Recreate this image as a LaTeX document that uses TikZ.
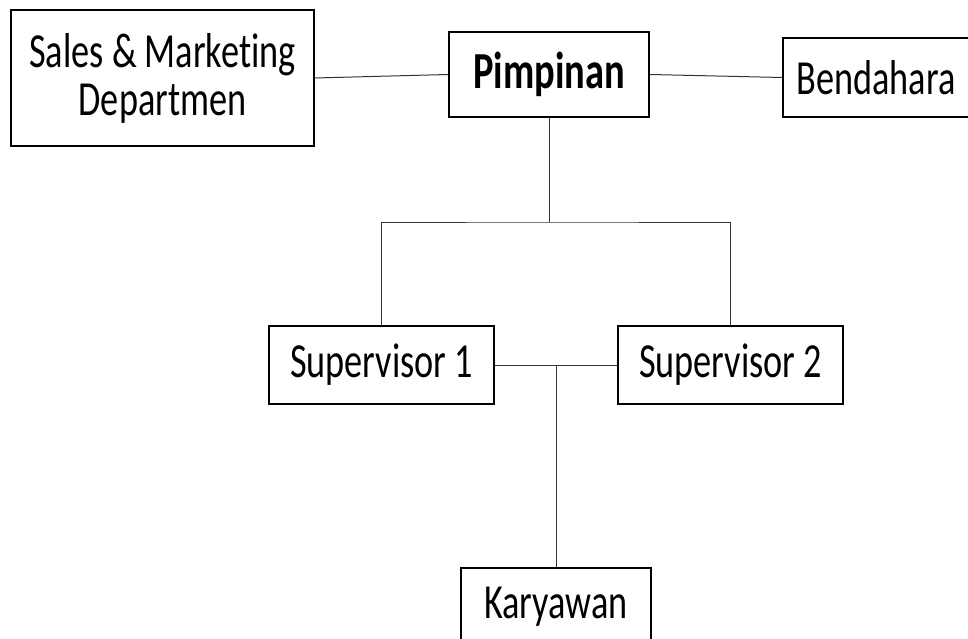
\documentclass[tikz,border=0pt]{standalone}
\usepackage{fontspec}
\setmainfont{Carlito}[FakeStretch=0.74, Ligatures=NoCommon]
\begin{document}
\begin{tikzpicture}[x=1pt, y=-1pt,
    unitbox/.style={draw=black, line width=1.3pt, fill=white, inner sep=0pt, align=center,
        font=\fontsize{49}{48}\selectfont},
    headbox/.style={unitbox, line width=2.2pt, font=\fontsize{52}{52}\selectfont\bfseries},
    link/.style={draw=black!80, line width=1pt}]
    \clip (0,0) rectangle (968,639);
    \node[unitbox, minimum width=303, minimum height=136] (sales) at (162.5,78) {Sales \& Marketing\\Departmen};
    \node[headbox, minimum width=200, minimum height=85] (pimpinan) at (549,74.5) {Pimpinan};
    \node[unitbox, minimum width=186, minimum height=79] (bendahara) at (876,77.5) {Bendahara};
    \node[unitbox, minimum width=225, minimum height=78] (sup1) at (381.5,365) {Supervisor 1};
    \node[unitbox, minimum width=225, minimum height=78] (sup2) at (730.5,365) {Supervisor 2};
    \node[unitbox, minimum width=190, minimum height=78] (karyawan) at (556,607) {Karyawan};
    \coordinate (split) at (549,222);
    \draw[link] (sales.east) -- (pimpinan.west);
    \draw[link] (pimpinan.east) -- (bendahara.west);
    \draw[link] (pimpinan.south) -- (split);
    \draw[link] (sup1.north) |- (split) -| (sup2.north);
    \draw[link] (sup1.east) -- (sup2.west);
    \draw[link] (karyawan.north) -- (karyawan.north |- sup1.east);
\end{tikzpicture}
\end{document}
